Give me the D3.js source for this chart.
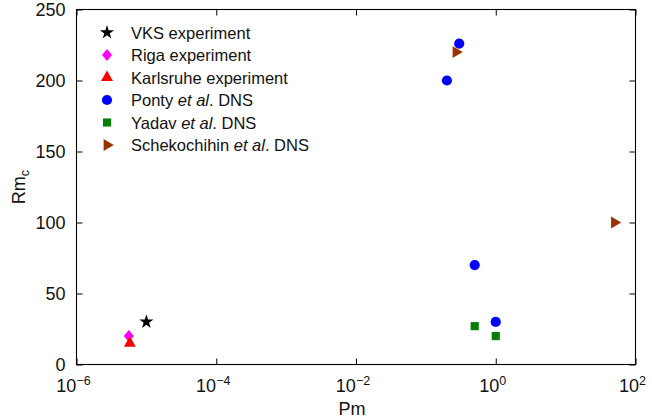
<!DOCTYPE html>
<html>
<head>
<meta charset="utf-8">
<script src="https://cdn.jsdelivr.net/npm/d3@7"></script>
<style>
  body { margin: 0; background: #fff; }
  svg { display: block; font-family: "Liberation Sans", Arial, Helvetica, sans-serif; }
</style>
</head>
<body>
<svg id="chart" width="652" height="419"></svg>
<script>
// -- data -- //
const seriesNames = ['VKS experiment', 'Riga experiment', 'Karlsruhe experiment', 'Ponty', 'Yadav', 'Schekochihin'];
const seriesItalic = [null, null, null, 'et al', 'et al', 'et al'];
const seriesSuffix = ['', '', '', '. DNS', '. DNS', '. DNS'];
const seriesColors = ['#000000', '#ff00ff', '#ff0000', '#0000ff', '#008000', '#993300'];
const seriesMarkers = ['star', 'diamond', 'triangle', 'circle', 'square', 'tright'];

const vksPm = [1e-5], vksRm = [30];
const rigaPm = [5.6e-6], rigaRm = [20];
const karlsruhePm = [5.8e-6], karlsruheRm = [15];
const pontyPm = [0.2, 0.3, 0.5, 1], pontyRm = [200, 226, 70, 30];
const yadavPm = [0.5, 1], yadavRm = [27, 20];
const schekPm = [0.27, 50], schekRm = [220, 100];

const xTicks = [1e-6, 1e-4, 1e-2, 1e0, 1e2];
const xTickExp = ['\u22126', '\u22124', '\u22122', '0', '2'];
const yTicks = [0, 50, 100, 150, 200, 250];

const allSeries = [
  [vksPm, vksRm], [rigaPm, rigaRm], [karlsruhePm, karlsruheRm],
  [pontyPm, pontyRm], [yadavPm, yadavRm], [schekPm, schekRm]
];

// -- layout -- //
const svg = d3.select('#chart');
const plotLeft = 76.5, plotRight = 635.5, plotTop = 9.5, plotBottom = 364.5;

const xScale = d3.scaleLog().domain([1e-6, 1e2]).range([plotLeft, plotRight]);
const yScale = d3.scaleLinear().domain([0, 250]).range([plotBottom, plotTop]);

// marker shapes
let markerPath = (type) => {
  if (type === 'star') return d3.symbol(d3.symbolStar, 62)();
  if (type === 'circle') return d3.symbol(d3.symbolCircle, 82)();
  if (type === 'square') return d3.symbol(d3.symbolSquare, 66)();
  if (type === 'triangle') return d3.symbol(d3.symbolTriangle, 62)();
  if (type === 'tright') return d3.symbol(d3.symbolTriangle, 60)();
  if (type === 'diamond') return 'M0,-6L5,0L0,6L-5,0Z';
};
let markerRotate = (type) => type === 'tright' ? ' rotate(90)' : '';

// -- axes box and ticks -- //
svg.append('rect')
  .attr('x', plotLeft).attr('y', plotTop)
  .attr('width', plotRight - plotLeft).attr('height', plotBottom - plotTop)
  .attr('fill', 'none').attr('stroke', '#000').attr('stroke-width', 1.1);

const tickLen = 6;
const bottomAxis = d3.axisBottom(xScale).tickValues(xTicks).tickSizeInner(-tickLen).tickSizeOuter(0).tickFormat('');
const topAxis = d3.axisTop(xScale).tickValues(xTicks).tickSizeInner(-tickLen).tickSizeOuter(0).tickFormat('');
const leftAxis = d3.axisLeft(yScale).tickValues(yTicks).tickSizeInner(-tickLen).tickSizeOuter(0).tickFormat('');
const rightAxis = d3.axisRight(yScale).tickValues(yTicks).tickSizeInner(-tickLen).tickSizeOuter(0).tickFormat('');

svg.append('g').attr('transform', `translate(0,${plotBottom})`).call(bottomAxis);
svg.append('g').attr('transform', `translate(0,${plotTop})`).call(topAxis);
svg.append('g').attr('transform', `translate(${plotLeft},0)`).call(leftAxis);
svg.append('g').attr('transform', `translate(${plotRight},0)`).call(rightAxis);
svg.selectAll('.domain').remove();
svg.selectAll('.tick line').attr('stroke', '#000').attr('stroke-width', 1);

// tick labels
svg.selectAll('.ylab')
  .data(yTicks)
  .enter().append('text')
  .attr('class', 'ylab')
  .attr('x', plotLeft - 11)
  .attr('y', d => yScale(d) + 6.5)
  .attr('text-anchor', 'end')
  .style('font-size', '18px')
  .style('fill', '#111')
  .text(d => d);

let xl = svg.selectAll('.xlab')
  .data(xTicks)
  .enter().append('text')
  .attr('class', 'xlab')
  .attr('x', d => xScale(d) - 3)
  .attr('y', 392)
  .attr('text-anchor', 'middle')
  .style('font-size', '18px')
  .style('fill', '#111');
xl.append('tspan').text('10');
xl.append('tspan')
  .attr('dy', -7)
  .style('font-size', '12.5px')
  .text((d, i) => xTickExp[i]);

// axis titles
svg.append('text')
  .attr('x', 352).attr('y', 415)
  .attr('text-anchor', 'middle')
  .style('font-size', '18px')
  .style('fill', '#111')
  .text('Pm');

let yTitle = svg.append('text')
  .attr('transform', `translate(25,${(plotTop + plotBottom) / 2}) rotate(-90)`)
  .attr('text-anchor', 'middle')
  .style('font-size', '18px')
  .style('fill', '#111');
yTitle.append('tspan').text('Rm');
yTitle.append('tspan').attr('dy', 4).style('font-size', '12.5px').text('c');

// -- points -- //
allSeries.forEach((s, i) => {
  let pts = s[0].map((pm, j) => ({ pm: pm, rm: s[1][j] }));
  svg.selectAll('.pt' + i)
    .data(pts)
    .enter().append('path')
    .attr('class', 'pt' + i)
    .attr('d', markerPath(seriesMarkers[i]))
    .attr('transform', d => `translate(${xScale(d.pm)},${yScale(d.rm)})` + markerRotate(seriesMarkers[i]))
    .style('fill', seriesColors[i]);
});

// -- legend -- //
const legendX = 107, legendY = 32.5, legendStep = 22.5;
let leg = svg.selectAll('.legend')
  .data(seriesNames)
  .enter().append('g')
  .attr('class', 'legend')
  .attr('transform', (d, i) => `translate(${legendX},${legendY + i * legendStep})`);

leg.append('path')
  .attr('d', (d, i) => markerPath(seriesMarkers[i]))
  .attr('transform', (d, i) => markerRotate(seriesMarkers[i]))
  .style('fill', (d, i) => seriesColors[i]);

let lt = leg.append('text')
  .attr('x', 24)
  .attr('y', 6)
  .style('font-size', '16.5px')
  .style('fill', '#111');
lt.append('tspan').text((d, i) => seriesItalic[i] ? d + ' ' : d);
lt.append('tspan').style('font-style', 'italic').text((d, i) => seriesItalic[i] || '');
lt.append('tspan').text((d, i) => seriesSuffix[i]);
</script>
</body>
</html>
